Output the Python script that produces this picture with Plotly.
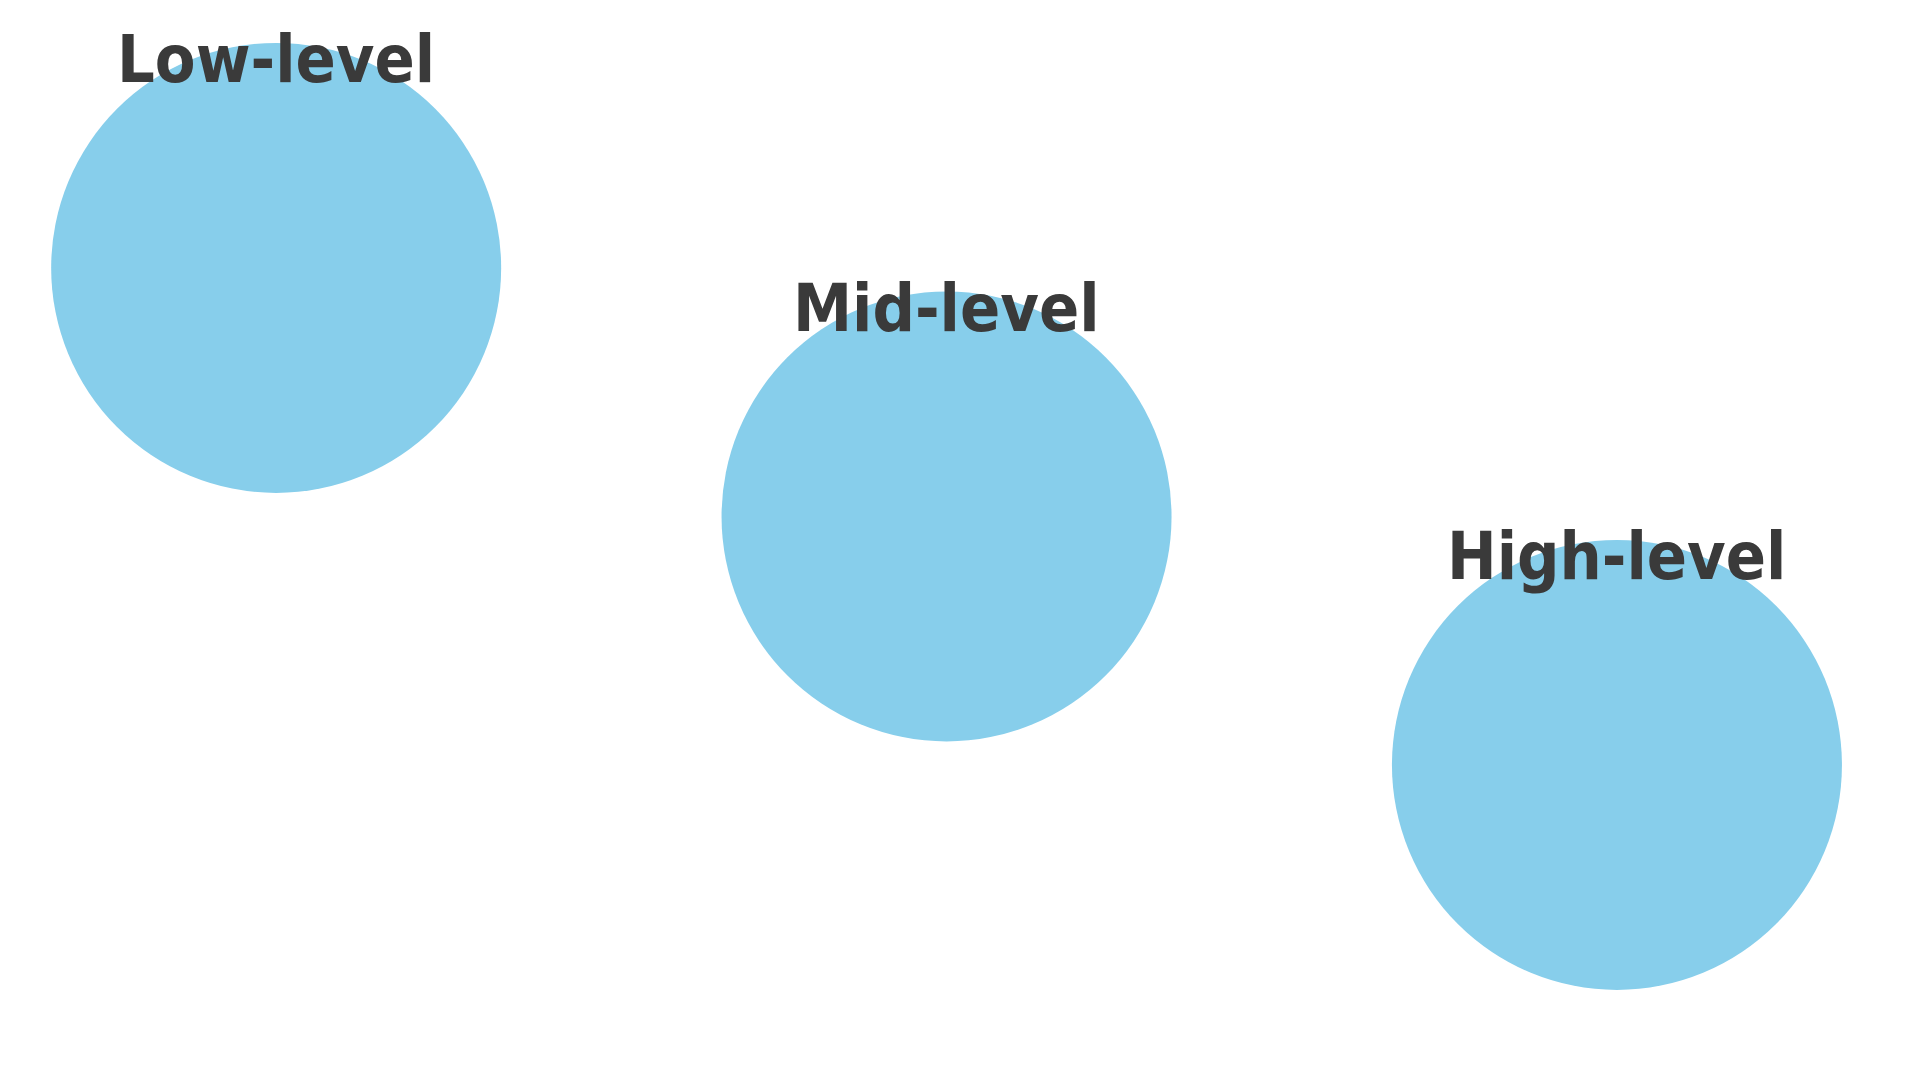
import plotly.graph_objects as go

levels = ["Low-level", "Mid-level", "High-level"]
x_pos = [0, 1, 2]
y_pos = [2, 1, 0]

fig = go.Figure()
fig.add_trace(go.Scatter(
    x=x_pos, y=y_pos, mode="markers",
    marker=dict(size=450, color="#87CEEB", line=dict(width=0), opacity=1),
    hoverinfo="text", text=levels, showlegend=False,
))
for lx, ly, lab in zip(x_pos, y_pos, levels):
    fig.add_annotation(x=lx, y=ly, text="<b>" + lab + "</b>", showarrow=False,
                       yshift=208, font=dict(family="DejaVu Sans Condensed", size=66, color="#3a3a3a"))

fig.update_layout(
    width=1920, height=1080,
    margin=dict(l=0, r=0, t=0, b=0),
    plot_bgcolor="white", paper_bgcolor="white",
    xaxis=dict(visible=False, range=[-0.4, 2.464]),
    yaxis=dict(visible=False, range=[-1.3, 3.046]),
)
fig.write_html("out.html")
